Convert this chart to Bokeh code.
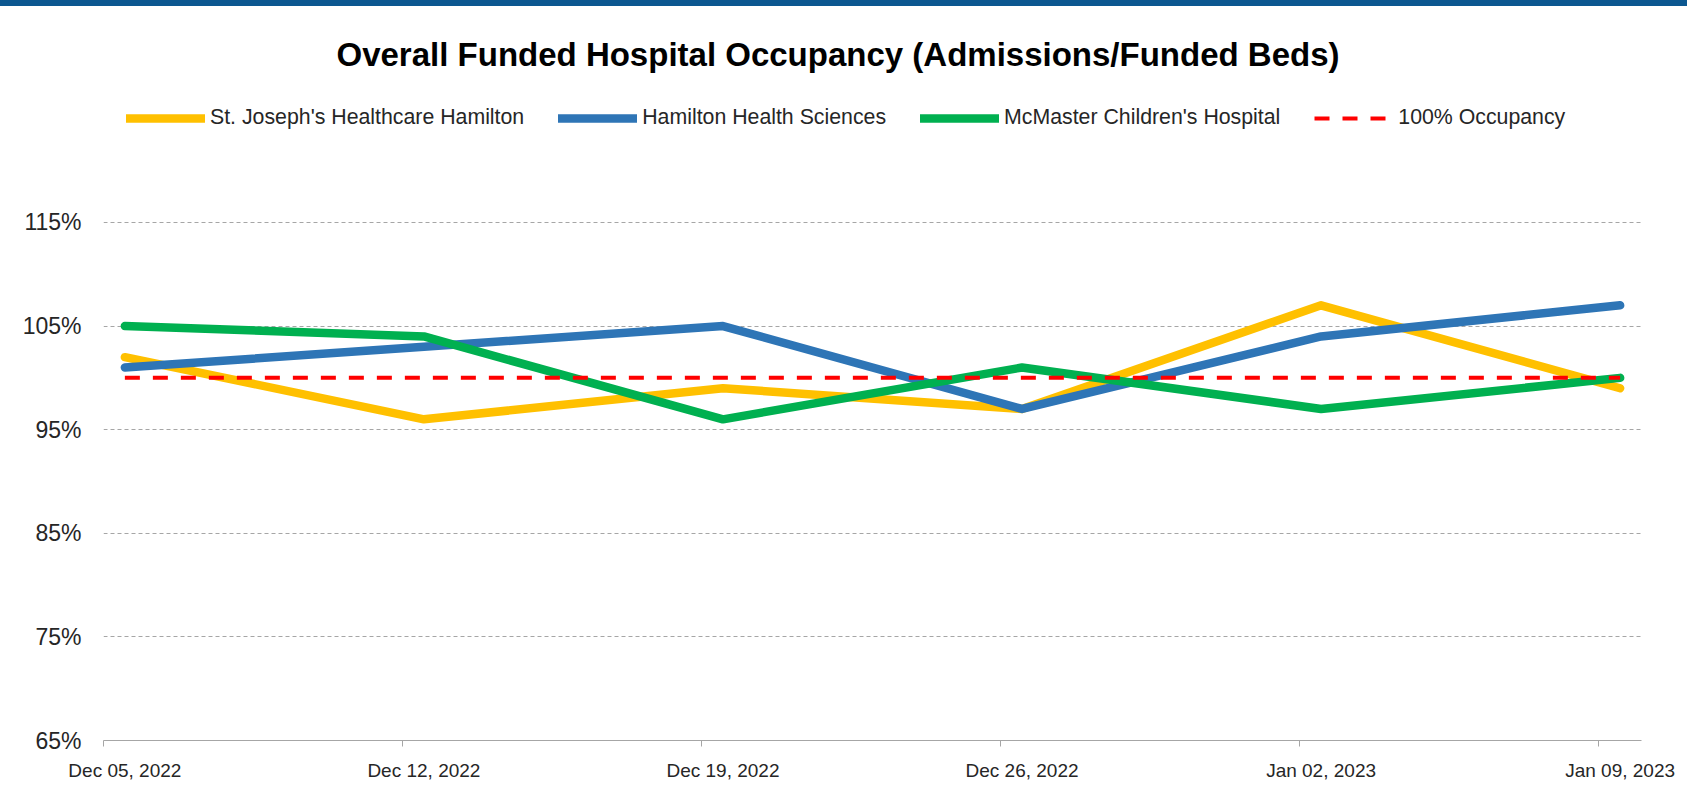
import pandas as pd
from bokeh.plotting import figure
from bokeh.layouts import column
from bokeh.models import (ColumnDataSource, FixedTicker, Range1d, PrintfTickFormatter,
                          DatetimeTickFormatter, Legend, LegendItem, Div)
from bokeh.embed import file_html
from bokeh.resources import INLINE

# ---------------- data ----------------
week_dates = ["2022-12-05", "2022-12-12", "2022-12-19", "2022-12-26", "2023-01-02", "2023-01-09"]
st_josephs = [102, 96, 99, 97, 107, 99]
hamilton_health = [101, 103, 105, 97, 104, 107]
mcmaster_children = [105, 104, 96, 101, 97, 100]
full_occupancy = [100, 100, 100, 100, 100, 100]
y_tick_values = [65, 75, 85, 95, 105, 115]
series_names = ["St. Joseph's Healthcare Hamilton", "Hamilton Health Sciences",
                "McMaster Children's Hospital", "100% Occupancy"]
title_text = "Overall Funded Hospital Occupancy (Admissions/Funded Beds)"

# ---------------- derived ----------------
days = pd.to_datetime(week_dates)
points = days + pd.Timedelta(hours=12)          # weekly values plotted at mid-day
day_ms = [float(v) for v in (days.asi8 // 10**6)]
point_ms = [float(v) for v in (points.asi8 // 10**6)]
one_day_ms = 24 * 3600 * 1000.0

src = ColumnDataSource(dict(x=points, sj=st_josephs, hhs=hamilton_health,
                            mch=mcmaster_children, full=full_occupancy))

FONT = "Liberation Sans"

p = figure(width=1687, height=793, x_axis_type="datetime", output_backend="svg",
           toolbar_location=None,
           x_range=Range1d(day_ms[0], day_ms[-1] + one_day_ms),
           y_range=Range1d(65, 127.93),
           min_border_left=103, min_border_right=46, min_border_top=82, min_border_bottom=59)

p.title.text = title_text
p.title.text_font = FONT
p.title.text_font_size = "33px"
p.title.text_font_style = "bold"
p.title.text_color = "#000000"
p.title.align = "left"
p.title.offset = 233
p.title.standoff = 31

p.outline_line_color = None
p.background_fill_color = "white"
p.border_fill_color = "white"

# lines
common = dict(source=src, line_cap="round", line_join="round")
r1 = p.line("x", "sj", line_color="#FFC000", line_width=8.5, **common)
r2 = p.line("x", "hhs", line_color="#2E75B6", line_width=8.5, **common)
r3 = p.line("x", "mch", line_color="#00B050", line_width=8.5, **common)
r4 = p.line("x", "full", source=src, line_color="#FF0000", line_width=4, line_dash="15 13")

legend = Legend(items=[LegendItem(label=series_names[0], renderers=[r1]),
                       LegendItem(label=series_names[1], renderers=[r2]),
                       LegendItem(label=series_names[2], renderers=[r3]),
                       LegendItem(label=series_names[3], renderers=[r4])],
                location=(23, 610), orientation="horizontal",
                glyph_width=79, glyph_height=20, label_standoff=5, spacing=34,
                padding=0, margin=0, border_line_color=None, background_fill_alpha=0,
                label_text_font=FONT, label_text_font_size="21.3px", label_text_color="#262626")
p.add_layout(legend)

# y axis
p.yaxis.ticker = FixedTicker(ticks=y_tick_values)
p.yaxis.formatter = PrintfTickFormatter(format="%d%%")
p.yaxis.axis_line_color = None
p.yaxis.major_tick_line_color = None
p.yaxis.minor_tick_line_color = None
p.yaxis.major_tick_in = 0
p.yaxis.major_tick_out = 0
p.yaxis.major_label_standoff = 22
p.yaxis.major_label_text_font = FONT
p.yaxis.major_label_text_font_size = "23px"
p.yaxis.major_label_text_color = "#262626"

p.ygrid.ticker = FixedTicker(ticks=y_tick_values)
p.ygrid.grid_line_color = "#a6a6a6"
p.ygrid.grid_line_dash = "4 3"
p.ygrid.grid_line_width = 1
p.xgrid.visible = False

# x axis
p.xaxis.ticker = FixedTicker(ticks=point_ms, minor_ticks=day_ms)
fmt = "%b %d, %Y"
p.xaxis.formatter = DatetimeTickFormatter(days=fmt, months=fmt, years=fmt, hours=fmt,
                                          hourmin=fmt, minutes=fmt, minsec=fmt,
                                          seconds=fmt, milliseconds=fmt, microseconds=fmt)
p.xaxis.axis_line_color = "#a6a6a6"
p.xaxis.axis_line_width = 1
p.xaxis.major_tick_line_color = None
p.xaxis.major_tick_in = 0
p.xaxis.major_tick_out = 0
p.xaxis.minor_tick_line_color = "#a6a6a6"
p.xaxis.minor_tick_in = 0
p.xaxis.minor_tick_out = 6
p.xaxis.major_label_standoff = 13
p.xaxis.major_label_text_font = FONT
p.xaxis.major_label_text_font_size = "19px"
p.xaxis.major_label_text_color = "#262626"

band = Div(text="", width=1687, height=6, margin=0,
           styles={"background-color": "#0c5790"})
layout = column(band, p, spacing=0)

open("out.html", "w").write(file_html(layout, INLINE))
